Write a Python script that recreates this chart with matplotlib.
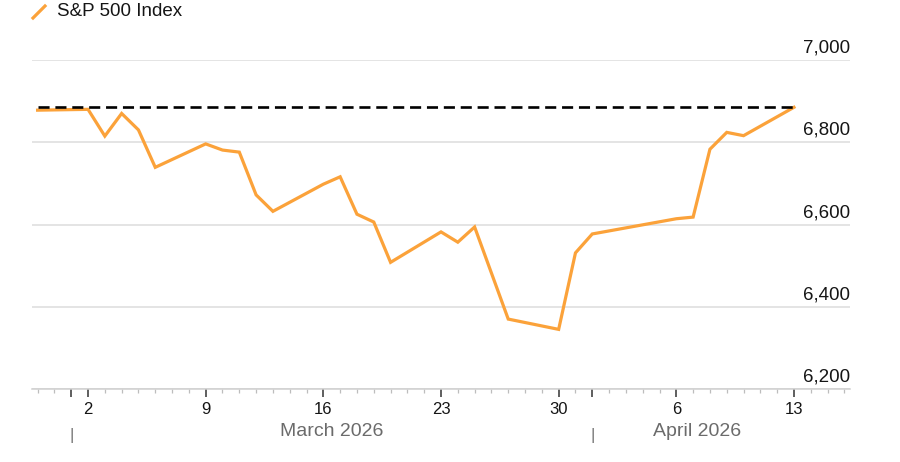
import matplotlib
matplotlib.use("Agg")
import matplotlib.pyplot as plt
import matplotlib.dates as mdates
import matplotlib.transforms as mtransforms
from matplotlib.lines import Line2D
from matplotlib.ticker import FixedLocator, FuncFormatter
import pandas as pd

# S&P 500 daily closes
dates = ["2026-02-27", "2026-03-02", "2026-03-03", "2026-03-04", "2026-03-05",
         "2026-03-06", "2026-03-09", "2026-03-10", "2026-03-11", "2026-03-12",
         "2026-03-13", "2026-03-16", "2026-03-17", "2026-03-18", "2026-03-19",
         "2026-03-20", "2026-03-23", "2026-03-24", "2026-03-25", "2026-03-27",
         "2026-03-30", "2026-03-31", "2026-04-01", "2026-04-06", "2026-04-07",
         "2026-04-08", "2026-04-09", "2026-04-10", "2026-04-13"]
values = [6878, 6880, 6815, 6870, 6830,
          6739, 6796, 6781, 6776, 6672,
          6632, 6698, 6716, 6625, 6606,
          6508, 6582, 6557, 6594, 6370,
          6345, 6531, 6577, 6614, 6618,
          6783, 6824, 6816, 6885]
reference_level = 6886

y_ticks = [6200, 6400, 6600, 6800, 7000]
x_major = ["2026-03-02", "2026-03-09", "2026-03-16", "2026-03-23",
           "2026-03-30", "2026-04-06", "2026-04-13"]
month_starts = ["2026-03-01", "2026-04-01"]
month_labels = ["March 2026", "April 2026"]
month_label_pos = ["2026-03-16 12:00", "2026-04-07 06:00"]

ORANGE = "#fba23a"
INK = "#151515"
FONT = "Liberation Sans"

x = pd.to_datetime(dates)

fig = plt.figure(figsize=(9, 4.62), dpi=100)
ax = fig.add_axes([32 / 900, 1 - 389 / 462, (850 - 32) / 900, (389 - 60) / 462])

ax.plot(x, values, color=ORANGE, lw=2.3, solid_joinstyle="miter", zorder=3)
ax.plot([x[0], x[-1]], [reference_level, reference_level], color="black",
        lw=1.9, linestyle=(0, (4.2, 2.2)), zorder=4)

ax.set_ylim(6200, 7000)
ax.set_xlim(pd.Timestamp("2026-03-02") - pd.Timedelta(hours=80),
            pd.Timestamp("2026-04-13") + pd.Timedelta(hours=80))

for s in ["top", "left", "right"]:
    ax.spines[s].set_visible(False)
ax.spines["bottom"].set_color("#cfcfcf")
ax.spines["bottom"].set_linewidth(1.1)

# y axis: labels on the right, sitting above the gridlines
ax.set_yticks(y_ticks)
ax.yaxis.set_major_formatter(FuncFormatter(lambda v, p: f"{v:,.0f}"))
ax.tick_params(axis="y", left=False, right=False, labelleft=False, labelright=True,
               length=0, pad=0, labelsize=13.5, labelcolor=INK)
shift = mtransforms.ScaledTranslation(0, 0.073, fig.dpi_scale_trans)
for lab in ax.get_yticklabels():
    lab.set_horizontalalignment("right")
    lab.set_verticalalignment("baseline")
    lab.set_fontfamily(FONT)
    lab.set_transform(lab.get_transform() + shift)
ax.grid(axis="y", color="#dcdcdc", lw=1.1)
ax.set_axisbelow(True)

# x axis: day minor ticks, Monday major ticks, month boundary ticks
major_locs = [mdates.date2num(pd.Timestamp(d)) for d in x_major + month_starts]
major_labs = [str(pd.Timestamp(d).day) for d in x_major] + ["" for _ in month_starts]
ax.xaxis.set_major_locator(FixedLocator(major_locs))
ax.xaxis.set_major_formatter(FuncFormatter(
    lambda v, p: dict(zip(major_locs, major_labs)).get(v, "")))
ax.xaxis.set_minor_locator(mdates.DayLocator())
ax.tick_params(axis="x", which="major", length=5.8, width=1.1, color="#333333",
               pad=3.5, labelsize=12, labelcolor=INK)
ax.tick_params(axis="x", which="minor", length=3, width=0.9, color="#bdbdbd")
for lab in ax.get_xticklabels():
    lab.set_fontfamily(FONT)

xtrans = mtransforms.blended_transform_factory(ax.transData, ax.transAxes)
for d in month_starts:
    ax.text(pd.Timestamp(d), -0.14, "|", transform=xtrans, ha="center", va="center",
            fontsize=12, color="#777777", family=FONT)
for d, lab in zip(month_label_pos, month_labels):
    ax.text(pd.Timestamp(d), -0.13, lab, transform=xtrans, ha="center", va="center",
            fontsize=14, color="#6b6b6b", family=FONT)

# legend key
fig.add_artist(Line2D([33 / 900, 45 / 900], [1 - 18 / 462, 1 - 6 / 462],
                      color=ORANGE, lw=2.3, transform=fig.transFigure))
fig.text(57 / 900, 1 - 12 / 462, "S&P 500 Index", ha="left", va="center",
         fontsize=13.5, color=INK, family=FONT)

fig.savefig("out.png", dpi=100)
